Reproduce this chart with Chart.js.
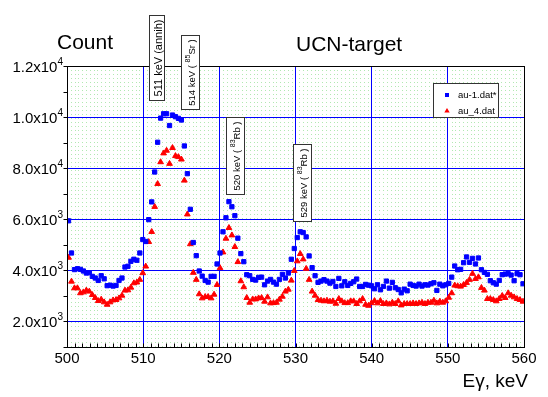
<!DOCTYPE html>
<html>
<head>
<meta charset="utf-8">
<script src="https://cdn.jsdelivr.net/npm/chart.js@4.4.0/dist/chart.umd.min.js"></script>
<style>
  html, body { margin: 0; padding: 0; background: #fff; }
</style>
</head>
<body>
<canvas id="canvas" width="548" height="397"></canvas>
<script>
        // channel -> energy calibration of the spectra
        var E0 = 500.2, keVPerCh = 0.39;

        var au1 = [
            5940, 4680, 4030, 4065, 4040, 3975, 3895, 3910, 3765, 3700, 3605, 3790, 3670, 3400, 3420, 3385, 3410, 3605, 3700, 4130, 4160, 4355, 4435, 4395, 4680, 5205, 5130,
            5985, 6680, 7850, 9015, 9960, 10130, 10130, 9670, 10080, 10015, 9950, 9885, 8870, 7785, 6390, 5090, 4575, 3975, 3775, 3605, 3540, 3765, 3765, 4250, 4680, 5510,
            6060, 6690, 6490, 6140, 5260, 4655, 4340, 3830, 3790, 3645, 3620, 3725, 3735, 3435, 3580, 3645, 3540, 3460, 3645, 3845, 3700, 3895, 4435, 4855, 5285, 5510,
            5480, 5310, 4565, 4105, 3790, 3530, 3580, 3635, 3580, 3500, 3565, 3370, 3685, 3395, 3555, 3410, 3490, 3555, 3660, 3370, 3370, 3450, 3420, 3395, 3280,
            3435, 3240, 3370, 3580, 3305, 3530, 3320, 3250, 3120, 3265, 3200, 3460, 3410, 3385, 3460, 3385, 3435, 3425, 3475, 3515, 3215, 3460, 3395, 3435, 3490, 3735,
            4170, 4025, 4040, 4300, 4525, 4315, 4470, 4250, 4485, 4025, 3920, 3845, 3595, 3515, 3460, 3605, 3830, 3855, 3870, 3815, 3595, 3870, 3830, 3475
        ];
        var au4 = [
            4500, 3565, 3305, 3305, 3110, 3145, 3215, 3175, 3040, 2925, 2805, 2860, 2755, 2660, 2755, 2830, 2845, 2910, 3015, 3215, 3225, 3330, 3500, 3530, 3635, 3895, 4155,
            5115, 5510, 6490, 7385, 8240, 8585, 8690, 8175, 8795, 8480, 8440, 8345, 7520, 6195, 5030, 3910, 3635, 3070, 2910, 2965, 2965, 2910, 3055, 3435, 4095, 4710,
            5245, 5665, 5375, 4920, 4330, 3580, 3345, 2925, 2740, 2870, 2870, 2910, 2925, 2780, 2950, 2715, 2725, 2740, 2860, 2975, 3175, 3250, 3605, 3985, 4360, 4645,
            4435, 4065, 3635, 3175, 3015, 2845, 2820, 2795, 2820, 2780, 2795, 2700, 2885, 2795, 2725, 2725, 2795, 2795, 2690, 2795, 2885, 2660, 2620, 2720, 2805,
            2715, 2805, 2690, 2715, 2675, 2740, 2690, 2795, 2635, 2690, 2690, 2690, 2715, 2690, 2715, 2740, 2690, 2740, 2740, 2820, 2715, 2780, 2740, 2795, 2935, 3110,
            3410, 3385, 3370, 3435, 3515, 3635, 3870, 3670, 3735, 3320, 3215, 2885, 2885, 2845, 2795, 2885, 3005, 2925, 3110, 3015, 2950, 2885, 2845, 2780
        ];

        var xTicks = [500, 510, 520, 530, 540, 550, 560];
        var xTickLabels = ['500', '510', '520', '530', '540', '550', '560'];
        var yTicks = [2000, 4000, 6000, 8000, 10000, 12000];
        var yTickMantissa = ['2.0x10', '4.0x10', '6.0x10', '8.0x10', '1.0x10', '1.2x10'];
        var yTickExponent = ['3', '3', '3', '4', '4', '4'];

        // peak labels: centre in data units, box width in px, font size
        var peakLabels = [
            { x: 511.65, y: 12370, w: 15, size: 11, parts: [['511 keV (annih)', 0]] },
            { x: 516.1, y: 11760, w: 18, size: 9.5, parts: [['514 keV ( ', 0], ['85', 1], ['Sr )', 0]] },
            { x: 522.1, y: 8510, w: 18, size: 9.5, parts: [['520 keV ( ', 0], ['83', 1], ['Rb )', 0]] },
            { x: 530.9, y: 7440, w: 18, size: 9.5, parts: [['529 keV ( ', 0], ['83', 1], ['Rb )', 0]] }
        ];

        var FONT = "'Liberation Sans', Arial, sans-serif";

        function toPoints(vals) {
            return vals.map(function (v, ch) { return { x: E0 + keVPerCh * ch, y: v }; });
        }

        var decor = {
            id: 'decor',
            beforeDraw: function (chart) {
                var ctx = chart.ctx, xs = chart.scales.x, a = chart.chartArea;
                ctx.save();
                ctx.strokeStyle = '#b2e8b2';
                ctx.lineWidth = 1;
                ctx.setLineDash([1, 3]);
                for (var k = 1001; k < 1120; k++) {
                    if (k % 20 === 0) continue;
                    var px = Math.round(xs.getPixelForValue(k / 2)) + 0.5;
                    ctx.beginPath();
                    ctx.moveTo(px, a.top);
                    ctx.lineTo(px, a.bottom);
                    ctx.stroke();
                }
                ctx.restore();
            },
            afterDraw: function (chart) {
                var ctx = chart.ctx, xs = chart.scales.x, ys = chart.scales.y, a = chart.chartArea;
                var L = Math.round(a.left) + 0.5, R = Math.round(a.right) + 0.5;
                var T = Math.round(a.top) + 0.5, B = Math.round(a.bottom) + 0.5;
                ctx.save();
                // frame
                ctx.strokeStyle = '#000';
                ctx.lineWidth = 1;
                ctx.strokeRect(L, T, R - L, B - T);
                // x minor ticks, inward
                ctx.beginPath();
                for (var e = 501; e < 560; e++) {
                    var px = Math.round(xs.getPixelForValue(e)) + 0.5;
                    ctx.moveTo(px, B);
                    ctx.lineTo(px, B - 4);
                }
                // y ticks, outward
                for (var c = 1000; c <= 12000; c += 1000) {
                    var py = Math.round(ys.getPixelForValue(c)) + 0.5;
                    ctx.moveTo(L, py);
                    ctx.lineTo(L - 4, py);
                }
                ctx.stroke();

                // tick labels
                ctx.fillStyle = '#000';
                ctx.font = '15px ' + FONT;
                ctx.textAlign = 'center';
                ctx.textBaseline = 'alphabetic';
                xTicks.forEach(function (v, i) {
                    ctx.fillText(xTickLabels[i], xs.getPixelForValue(v), 363);
                });
                yTicks.forEach(function (v, i) {
                    var py = ys.getPixelForValue(v);
                    ctx.font = '10px ' + FONT;
                    var ew = ctx.measureText(yTickExponent[i]).width;
                    ctx.textAlign = 'right';
                    ctx.textBaseline = 'alphabetic';
                    ctx.fillText(yTickExponent[i], 63, py - 1);
                    ctx.font = '15px ' + FONT;
                    ctx.fillText(yTickMantissa[i], 63 - ew, py + 5.5);
                });

                // titles
                ctx.font = '21px ' + FONT;
                ctx.textAlign = 'left';
                ctx.fillText('Count', 57, 49);
                ctx.fillText('UCN-target', 296, 51);
                ctx.font = '19px ' + FONT;
                ctx.textAlign = 'right';
                ctx.fillText('E\u03b3, keV', 528, 387);

                // peak labels, box length follows the text
                peakLabels.forEach(function (p) {
                    var supSize = Math.round(p.size * 0.7);
                    var total = 0;
                    p.parts.forEach(function (s) {
                        ctx.font = (s[1] ? supSize : p.size) + 'px ' + FONT;
                        total += ctx.measureText(s[0]).width;
                    });
                    var h = Math.round(total + 8);
                    var cx = Math.round(xs.getPixelForValue(p.x)), cy = Math.round(ys.getPixelForValue(p.y));
                    var bx = Math.round(cx - p.w / 2) + 0.5, by = Math.round(cy - h / 2) + 0.5;
                    ctx.fillStyle = '#fff';
                    ctx.fillRect(bx, by, p.w, h);
                    ctx.strokeStyle = '#333';
                    ctx.strokeRect(bx, by, p.w, h);
                    ctx.save();
                    ctx.translate(bx + p.w / 2, by + h / 2);
                    ctx.rotate(-Math.PI / 2);
                    ctx.fillStyle = '#000';
                    ctx.textAlign = 'left';
                    ctx.textBaseline = 'middle';
                    var tx = -total / 2;
                    p.parts.forEach(function (s) {
                        ctx.font = (s[1] ? supSize : p.size) + 'px ' + FONT;
                        ctx.fillText(s[0], tx, s[1] ? -2.5 : 1.5);
                        tx += ctx.measureText(s[0]).width;
                    });
                    ctx.restore();
                });

                // legend
                ctx.fillStyle = '#fff';
                ctx.fillRect(433.5, 83.5, 65, 34);
                ctx.strokeStyle = '#333';
                ctx.strokeRect(433.5, 83.5, 65, 34);
                var ds = chart.data.datasets;
                ctx.fillStyle = ds[0].backgroundColor;
                ctx.fillRect(445, 93, 4, 4);
                ctx.fillStyle = ds[1].backgroundColor;
                ctx.beginPath();
                ctx.moveTo(447, 108);
                ctx.lineTo(449.7, 112.6);
                ctx.lineTo(444.3, 112.6);
                ctx.closePath();
                ctx.fill();
                ctx.fillStyle = '#000';
                ctx.font = '9.5px ' + FONT;
                ctx.textAlign = 'left';
                ctx.textBaseline = 'middle';
                ctx.fillText(ds[0].label, 458, 95.5);
                ctx.fillText(ds[1].label, 458, 111);
                ctx.restore();
            }
        };

        var ctx = document.getElementById('canvas').getContext('2d');
        window.myChart = new Chart(ctx, {
            type: 'scatter',
            data: {
                datasets: [
                    {
                        label: 'au-1.dat*',
                        data: toPoints(au1),
                        pointStyle: 'rect',
                        pointRadius: 3,
                        backgroundColor: '#0000ff',
                        borderColor: '#0000ff',
                        borderWidth: 1
                    },
                    {
                        label: 'au_4.dat',
                        data: toPoints(au4),
                        pointStyle: 'triangle',
                        pointRadius: 3.3,
                        backgroundColor: '#ff0000',
                        borderColor: '#ff0000',
                        borderWidth: 1
                    }
                ]
            },
            options: {
                responsive: false,
                animation: false,
                events: [],
                layout: { padding: { top: 66, right: 24, left: 0, bottom: 0 } },
                plugins: { legend: { display: false }, tooltip: { enabled: false } },
                scales: {
                    x: {
                        type: 'linear',
                        min: 500,
                        max: 560,
                        afterFit: function (s) { s.height = 50; },
                        afterBuildTicks: function (s) { s.ticks = xTicks.map(function (v) { return { value: v }; }); },
                        ticks: { display: false },
                        border: { display: false },
                        grid: {
                            drawTicks: false,
                            lineWidth: 1,
                            color: function (c) {
                                return (c.tick && c.tick.value > 500 && c.tick.value < 560) ? '#0000ff' : 'rgba(0,0,0,0)';
                            }
                        }
                    },
                    y: {
                        type: 'linear',
                        min: 1000,
                        max: 12000,
                        afterFit: function (s) { s.width = 67; },
                        afterBuildTicks: function (s) { s.ticks = yTicks.map(function (v) { return { value: v }; }); },
                        ticks: { display: false },
                        border: { display: false },
                        grid: {
                            drawTicks: false,
                            lineWidth: 1,
                            color: function (c) {
                                return (c.tick && c.tick.value < 12000) ? '#0000ff' : 'rgba(0,0,0,0)';
                            }
                        }
                    }
                }
            },
            plugins: [decor]
        });
</script>
</body>
</html>
